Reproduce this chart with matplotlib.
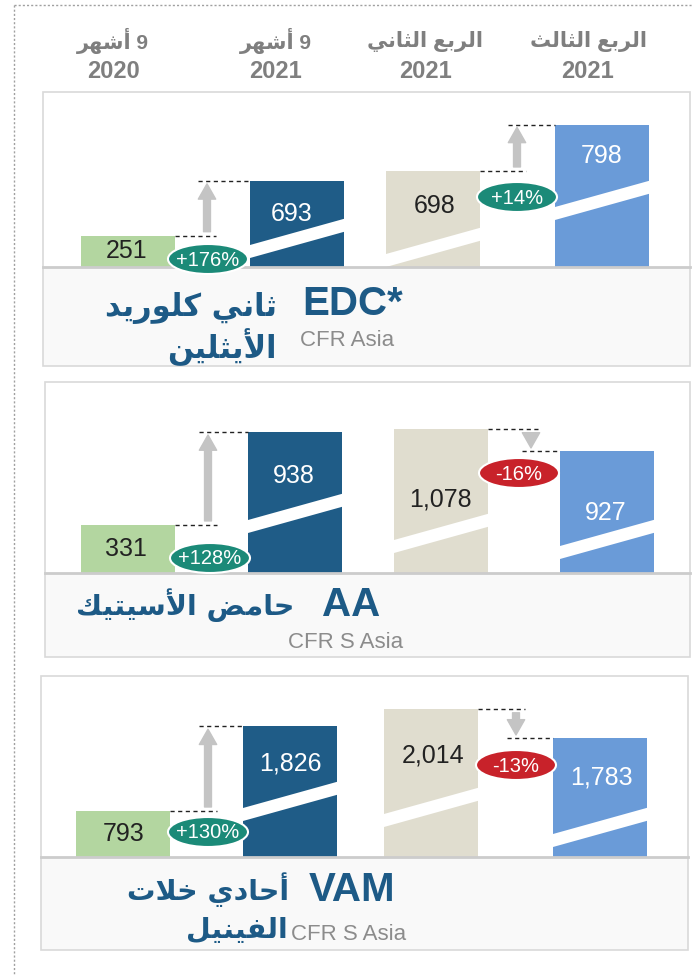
import matplotlib
matplotlib.use('Agg')
import matplotlib.pyplot as plt
from matplotlib.patches import Rectangle, Ellipse, Polygon

# ---------------- data ----------------
period_names = ['9 أشهر', '9 أشهر', 'الربع الثاني', 'الربع الثالث']
period_years = ['2020', '2021', '2021', '2021']

codes = ['EDC*', 'AA', 'VAM']
names_ar = [['ثاني كلوريد', 'الأيثلين'], ['حامض الأسيتيك'], ['أحادي خلات', 'الفينيل']]
markets = ['CFR Asia', 'CFR S Asia', 'CFR S Asia']

edc = [251, 693, 698, 798]
aa = [331, 938, 1078, 927]
vam = [793, 1826, 2014, 1783]
prices = [edc, aa, vam]
changes = [['+176%', '+14%'], ['+128%', '-16%'], ['+130%', '-13%']]

bar_colors = ['#b3d6a0', '#1f5c87', '#e0ddcf', '#6a9bd8']
text_colors = ['#222222', 'white', '#222222', 'white']
title_blue = '#1d5a86'


# --- minimal arabic shaping (matplotlib has no RTL / joining support) ---
FORMS = {
    'ا': (0xFE8D, 0xFE8E, None, None), 'أ': (0xFE83, 0xFE84, None, None),
    'ب': (0xFE8F, 0xFE90, 0xFE91, 0xFE92), 'ت': (0xFE95, 0xFE96, 0xFE97, 0xFE98),
    'ث': (0xFE99, 0xFE9A, 0xFE9B, 0xFE9C), 'ح': (0xFEA1, 0xFEA2, 0xFEA3, 0xFEA4),
    'خ': (0xFEA5, 0xFEA6, 0xFEA7, 0xFEA8), 'د': (0xFEA9, 0xFEAA, None, None),
    'ر': (0xFEAD, 0xFEAE, None, None), 'س': (0xFEB1, 0xFEB2, 0xFEB3, 0xFEB4),
    'ش': (0xFEB5, 0xFEB6, 0xFEB7, 0xFEB8), 'ض': (0xFEBD, 0xFEBE, 0xFEBF, 0xFEC0),
    'ع': (0xFEC9, 0xFECA, 0xFECB, 0xFECC), 'ف': (0xFED1, 0xFED2, 0xFED3, 0xFED4),
    'ك': (0xFED9, 0xFEDA, 0xFEDB, 0xFEDC), 'ل': (0xFEDD, 0xFEDE, 0xFEDF, 0xFEE0),
    'م': (0xFEE1, 0xFEE2, 0xFEE3, 0xFEE4), 'ن': (0xFEE5, 0xFEE6, 0xFEE7, 0xFEE8),
    'ه': (0xFEE9, 0xFEEA, 0xFEEB, 0xFEEC), 'و': (0xFEED, 0xFEEE, None, None),
    'ي': (0xFEF1, 0xFEF2, 0xFEF3, 0xFEF4),
}
LAM_ALEF = {'ا': (0xFEFB, 0xFEFC), 'أ': (0xFEF7, 0xFEF8)}


def joins_left(c):
    return c in FORMS and FORMS[c][2] is not None


def ar(text):
    out = []
    i = 0
    n = len(text)
    while i < n:
        c = text[i]
        prev = text[i - 1] if i > 0 else ''
        if c == 'ل' and i + 1 < n and text[i + 1] in LAM_ALEF:
            iso, fin = LAM_ALEF[text[i + 1]]
            out.append(chr(fin if joins_left(prev) else iso))
            i += 2
            continue
        if c in FORMS:
            iso, fin, ini, med = FORMS[c]
            p = joins_left(prev)
            nx = ini is not None and i + 1 < n and text[i + 1] in FORMS
            if p and nx:
                out.append(chr(med))
            elif p:
                out.append(chr(fin))
            elif nx:
                out.append(chr(ini))
            else:
                out.append(chr(iso))
        else:
            out.append(c)
        i += 1
    return ''.join(reversed(out))


# ---------------- layout (pixels) ----------------
W, H = 692, 976
boxes = [(43, 92, 690, 366), (45, 382, 690, 657), (41, 676, 688, 950)]
baselines = [267, 573, 857]
bar_w = 94
bar_lefts = [[81, 250, 386, 555], [81, 248, 394, 560], [76, 243, 384, 553]]
arrow_x = [[207, 517], [208, 531], [208, 516]]
# axis limits of the two broken value scales in every panel
ylims = [[(0, 1411), (492, 868)], [(18, 1266), (66, 1411)], [(234, 2441), (836, 2273)]]
stripe_off = [[None, 9, 0, 47], [None, 40, 20, 14], [None, 36, 30, 10]]
label_pos = [[(127, 251), (292, 214), (435, 206), (602, 156)],
             [(126, 549), (294, 476), (440, 500), (606, 513)],
             [(124, 834), (290, 764), (433, 755), (601, 778)]]
ell_pos = [[(208, 259), (517, 197)], [(210, 558), (519, 473)], [(208, 832), (516, 765)]]
code_pos = [(302, 304), (322, 605), (309, 890)]
market_pos = [(300, 341), (288, 642), (291, 935)]
name_pos = [[(277, 308), (277, 347)], [(294, 605)], [(289, 890), (288, 930)]]
name_size = [22, 20.5, 20.5]

fig = plt.figure(figsize=(W / 100, H / 100), dpi=100)

bg = fig.add_axes([0, 0, 1, 1], zorder=0)
bg.set_xlim(0, W)
bg.set_ylim(H, 0)
bg.axis('off')

ov = fig.add_axes([0, 0, 1, 1], zorder=3)
ov.set_xlim(0, W)
ov.set_ylim(H, 0)
ov.axis('off')
ov.patch.set_alpha(0)

# dotted outer frame
bg.plot([14, W], [5, 5], color='#a0a0a0', lw=1, ls=(0, (1.5, 1.5)))
bg.plot([14, 14], [5, H], color='#a0a0a0', lw=1, ls=(0, (1.5, 1.5)))

# column headers
hx = [113, 276, 425, 588]
for x, nm, yr in zip(hx, period_names, period_years):
    bg.text(x, 41, ar(nm), ha='center', va='center', fontsize=15, fontweight='bold',
            color='#7f7f7f', family=['Liberation Sans', 'DejaVu Sans'])
    bg.text(x, 72, yr, ha='center', va='center', fontsize=17, fontweight='bold',
            color='#7f7f7f', family='Liberation Sans')

for p in range(3):
    x0, y0, x1, y1 = boxes[p]
    base = baselines[p]
    bg.add_patch(Rectangle((x0, base), x1 - x0, y1 - base, facecolor='#f9f9f9', edgecolor='none'))
    bg.add_patch(Rectangle((x0, y0), x1 - x0, y1 - y0, facecolor='none', edgecolor='#d9d9d9', lw=1.2))

    vals = prices[p]
    for k in range(2):
        lefts = bar_lefts[p][2 * k:2 * k + 2]
        ax_l = lefts[0] - 20
        ax_r = lefts[1] + bar_w + 20
        ax = fig.add_axes([ax_l / W, 1 - base / H, (ax_r - ax_l) / W, (base - y0) / H], zorder=1)
        ax.set_xlim(ax_l, ax_r)
        ax.set_ylim(*ylims[p][k])
        ax.axis('off')
        v1, v2 = vals[2 * k], vals[2 * k + 1]
        ax.bar(lefts, [v1, v2], width=bar_w, align='edge',
               color=bar_colors[2 * k:2 * k + 2])
        xa = arrow_x[p][k]
        ax.plot([lefts[0] + bar_w, xa + 9], [v1, v1], color='#222222', lw=1,
                dashes=(3, 2.5), clip_on=False)
        ax.plot([xa - 9, lefts[1]], [v2, v2], color='#222222', lw=1,
                dashes=(3, 2.5), clip_on=False)
        ax.annotate('', xy=(xa, v2), xytext=(xa, v1), annotation_clip=False,
                    arrowprops=dict(arrowstyle='simple,head_width=1.25,head_length=1.1,tail_width=0.5',
                                    color='#c4c4c4', shrinkA=3, shrinkB=2, mutation_scale=10))

    # break stripes
    for j in range(4):
        b = stripe_off[p][j]
        if b is None:
            continue
        L = bar_lefts[p][j]
        R = L + bar_w + 3
        rise = 27
        th = 13
        ov.add_patch(Polygon([(L, base - b), (R, base - b - rise),
                              (R, base - b - rise - th), (L, base - b - th)],
                             closed=True, facecolor='white', edgecolor='none', zorder=2))
    ov.plot([x0, x1], [base, base], color='#cccccc', lw=2, zorder=3)

    for j in range(4):
        x, y = label_pos[p][j]
        ov.text(x, y, f'{vals[j]:,}', ha='center', va='center', fontsize=18,
                color=text_colors[j], family='Liberation Sans', zorder=5)

    for k in range(2):
        cx, cy = ell_pos[p][k]
        txt = changes[p][k]
        fc = '#1b8a78' if txt.startswith('+') else '#c8222a'
        ov.add_patch(Ellipse((cx, cy), 80, 30, facecolor=fc, edgecolor='white', lw=1.5, zorder=6))
        ov.text(cx, cy + 1, txt, ha='center', va='center', fontsize=14.5, color='white',
                family='Liberation Sans', zorder=7)

    ov.text(*code_pos[p], codes[p], ha='left', va='center', fontsize=29, fontweight='bold',
            color=title_blue, family='Liberation Sans')
    ov.text(*market_pos[p], markets[p], ha='left', va='center', fontsize=16,
            color='#8c8c8c', family='Liberation Sans')
    for (x, y), line in zip(name_pos[p], names_ar[p]):
        ov.text(x, y, ar(line), ha='right', va='center', fontsize=name_size[p], fontweight='bold',
                color=title_blue, family='DejaVu Sans')

fig.savefig('out.png', dpi=100)
